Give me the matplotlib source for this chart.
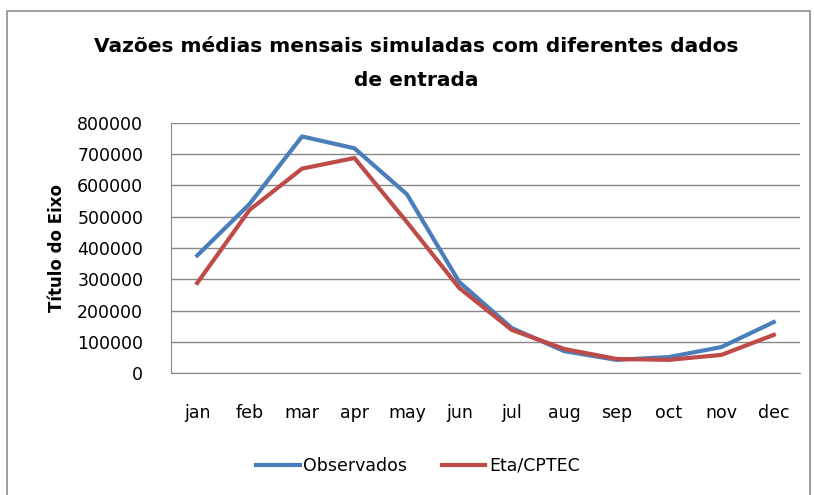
import matplotlib.pyplot as plt
import matplotlib.patches as patches

months = ['jan', 'feb', 'mar', 'apr', 'may', 'jun', 'jul', 'aug', 'sep', 'oct', 'nov', 'dec']
observados = [376000, 541000, 757000, 719000, 572000, 291000, 144000, 70000, 42000, 51000, 83000, 163000]
eta_cptec = [288000, 522000, 654000, 688000, 483000, 272000, 138000, 77000, 45000, 42000, 58000, 122000]
yticks = list(range(0, 800001, 100000))

fig = plt.figure(figsize=(8.14, 4.95), dpi=100)
# outer chart border like the spreadsheet frame
fig.patches.append(patches.Rectangle((7 / 814, -0.01), 803 / 814, 1 - 11 / 495 + 0.01,
                                     transform=fig.transFigure, fill=False,
                                     edgecolor='#8c8c8c', linewidth=1.2))

ax = fig.add_axes([171 / 814, 1 - 373 / 495, 629 / 814, 250 / 495])
x = list(range(len(months)))
ax.plot(x, observados, color='#4a7ebb', linewidth=3, label='Observados')
ax.plot(x, eta_cptec, color='#be4b48', linewidth=3, label='Eta/CPTEC')

ax.set_xlim(-0.5, 11.5)
ax.set_ylim(0, 800000)
ax.set_yticks(yticks)
ax.set_yticklabels([str(v) for v in yticks], fontsize=12.5)
ax.set_xticks(x)
ax.set_xticklabels(months, fontsize=12.5)
ax.tick_params(axis='x', length=0, pad=22)
ax.tick_params(axis='y', length=0, pad=20)
ax.grid(axis='y', color='#878787', linewidth=1)
ax.set_axisbelow(True)
for s in ['top', 'right']:
    ax.spines[s].set_visible(False)
ax.spines['left'].set_color('#878787')
ax.spines['bottom'].set_color('#878787')

ax.set_ylabel('Título do Eixo', fontsize=12, fontweight='bold', labelpad=8)

fig.text(416 / 814, 1 - 47 / 495, 'Vazões médias mensais simuladas com diferentes dados',
         ha='center', va='center', fontsize=14.5, fontweight='bold')
fig.text(416 / 814, 1 - 80 / 495, 'de entrada',
         ha='center', va='center', fontsize=14.5, fontweight='bold')

fig.legend(loc='center', bbox_to_anchor=(418 / 814, 1 - 466 / 495), ncol=2,
           frameon=False, fontsize=12.5, handlelength=2.5, handletextpad=0.2,
           columnspacing=2.0)

fig.savefig('out.png', dpi=100)
